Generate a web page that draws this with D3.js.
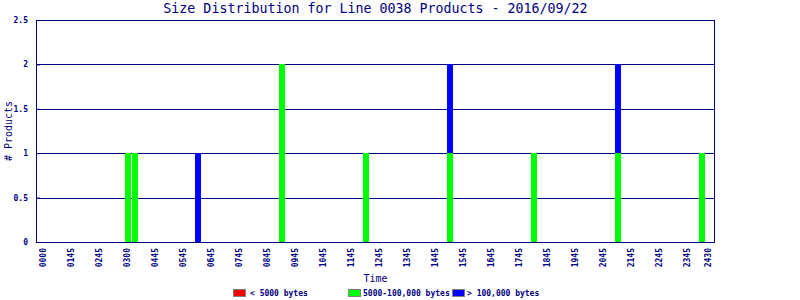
<!DOCTYPE html>
<html>
<head>
<meta charset="utf-8">
<script src="https://cdn.jsdelivr.net/npm/d3@7"></script>
<style>
  html, body { margin: 0; padding: 0; background: #fff; }
  svg { display: block; }
  text { font-family: "DejaVu Sans Mono", "Liberation Mono", monospace; fill: #000080; }
</style>
</head>
<body>
<svg id="chart" width="800" height="300"></svg>
<script>
// ---- data ----
const title = "Size Distribution for Line 0038 Products - 2016/09/22";
const times = [3.0, 3.25, 5.5, 8.5, 11.5, 14.5, 17.5, 20.5, 23.5]; // hours
const small = [0, 0, 0, 0, 0, 0, 0, 0, 0];
const medium = [1, 1, 0, 2, 1, 1, 1, 1, 1];
const large = [0, 0, 1, 0, 0, 1, 0, 1, 0];
const tickHours = [0,1,2,3,4,5,6,7,8,9,10,11,12,13,14,15,16,17,18,19,20,21,22,23,23.75];
const tickLabels = ["0000","0145","0245","0300","0445","0545","0645","0745","0845","0945","1045","1145","1245","1345","1445","1545","1645","1745","1845","1945","2045","2145","2245","2345","2430"];
const yTicks = [0, 0.5, 1, 1.5, 2, 2.5];
const seriesNames = ["< 5000 bytes", "5000-100,000 bytes", "> 100,000 bytes"];
const seriesColors = ["#ff0000", "#00ff00", "#0000ff"];

// ---- drawing ----
const svg = d3.select("#chart");
const navy = "#000080";
const L = 36, R = 715, T = 20, B = 242;

const x = d3.scaleLinear().domain([-0.25, 24]).range([L, R]);
const y = d3.scaleLinear().domain([0, 2.5]).range([B, T]);

const table = times.map((t, i) => ({ t, small: small[i], medium: medium[i], large: large[i] }));
const stacked = d3.stack().keys(["small", "medium", "large"])(table);

// gridlines
svg.append("g").selectAll("line").data(yTicks.filter(v => v > 0 && v < 2.5)).join("line")
  .attr("x1", L).attr("x2", R)
  .attr("y1", d => Math.round(y(d)) + 0.5).attr("y2", d => Math.round(y(d)) + 0.5)
  .attr("stroke", navy).attr("stroke-width", 1).attr("shape-rendering", "crispEdges");

// bars
const barW = 6;
svg.append("g").selectAll("g").data(stacked).join("g")
  .attr("fill", (d, i) => seriesColors[i])
  .selectAll("rect").data(d => d.filter(s => s[1] > s[0])).join("rect")
  .attr("x", d => Math.round(x(d.data.t)) - 2)
  .attr("width", barW)
  .attr("y", d => Math.round(y(d[1])))
  .attr("height", d => Math.round(y(d[0])) - Math.round(y(d[1])))
  .attr("shape-rendering", "crispEdges");

// frame
svg.append("rect").attr("x", L + 0.5).attr("y", T + 0.5)
  .attr("width", R - L - 1).attr("height", B - T)
  .attr("fill", "none").attr("stroke", navy).attr("stroke-width", 1)
  .attr("shape-rendering", "crispEdges");

// y axis labels
const yAxis = d3.axisLeft(y).tickValues(yTicks).tickSize(-4).tickPadding(8)
  .tickFormat(d => String(d));
const gy = svg.append("g").attr("transform", `translate(${L},0)`).call(yAxis);
gy.select(".domain").remove();
gy.selectAll(".tick line").attr("stroke", navy);
gy.selectAll("text").attr("font-size", "8px").attr("font-weight", "bold")
  .attr("font-family", "DejaVu Sans Mono, monospace").attr("fill", navy);

// x axis labels
const xAxis = d3.axisBottom(x).tickValues(tickHours).tickSize(0)
  .tickFormat((d, i) => tickLabels[i]);
const gx = svg.append("g").attr("transform", `translate(0,${B})`).call(xAxis);
gx.select(".domain").remove();
gx.selectAll("text")
  .attr("font-size", "8px").attr("font-weight", "bold")
  .attr("font-family", "DejaVu Sans Mono, monospace").attr("fill", navy)
  .attr("transform", "rotate(-90)")
  .attr("text-anchor", "end")
  .attr("x", -6).attr("y", 0).attr("dy", "0.35em");

// title
svg.append("text").attr("x", (L + R) / 2).attr("y", 13)
  .attr("text-anchor", "middle").attr("font-size", "13.3px").text(title);

// axis titles
svg.append("text").attr("x", (L + R) / 2).attr("y", 282)
  .attr("text-anchor", "middle").attr("font-size", "10px").text("Time");
svg.append("text").attr("transform", `translate(12,${(T + B) / 2}) rotate(-90)`)
  .attr("text-anchor", "middle").attr("font-size", "10px").text("# Products");

// legend
const legendX = [233, 348, 452];
const lg = svg.append("g").selectAll("g").data(seriesNames).join("g")
  .attr("transform", (d, i) => `translate(${legendX[i]},289)`);
lg.append("rect").attr("x", 0.5).attr("y", 0.5).attr("width", 12).attr("height", 7)
  .attr("fill", (d, i) => seriesColors[i]).attr("stroke", "#808080")
  .attr("shape-rendering", "crispEdges");
lg.append("text").attr("x", (d, i) => i === 0 ? 17 : 15).attr("y", 7)
  .attr("font-size", "8px").attr("font-weight", "bold").text(d => d);
</script>
</body>
</html>
